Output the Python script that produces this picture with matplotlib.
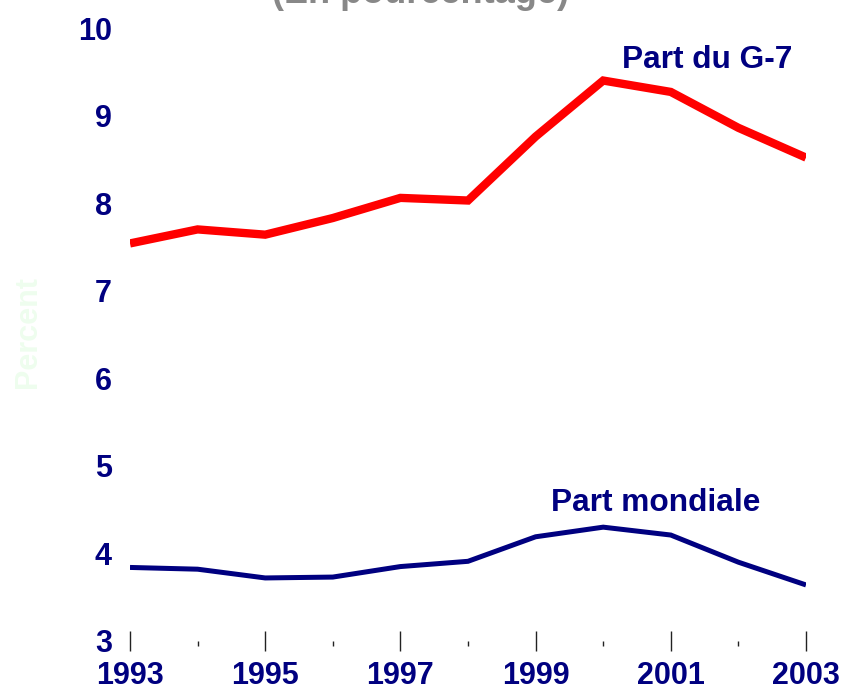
import matplotlib

matplotlib.use("Agg")
import matplotlib.pyplot as plt
from matplotlib.ticker import MultipleLocator

years = [1993, 1994, 1995, 1996, 1997, 1998, 1999, 2000, 2001, 2002, 2003]
g7_share = [7.54, 7.70, 7.64, 7.83, 8.06, 8.03, 8.76, 9.40, 9.27, 8.86, 8.52]
world_share = [3.84, 3.82, 3.72, 3.73, 3.85, 3.91, 4.19, 4.30, 4.21, 3.90, 3.64]
year_ticks = [1993, 1995, 1997, 1999, 2001, 2003]
y_ticks = [3, 4, 5, 6, 7, 8, 9, 10]

NAVY = "#000080"
RED = "#FF0000"

plt.rcParams["font.family"] = ["Liberation Sans", "DejaVu Sans"]
plt.rcParams["font.weight"] = "bold"

fig = plt.figure(figsize=(8.44, 6.87), dpi=100)
ax = fig.add_axes([130 / 844, 1 - 641 / 687, 676 / 844, 613 / 687])

ax.plot(years, g7_share, color=RED, linewidth=6.0, solid_capstyle="butt", solid_joinstyle="miter")
ax.plot(years, world_share, color=NAVY, linewidth=3.6, solid_capstyle="butt", solid_joinstyle="miter")

ax.set_xlim(1993, 2003)
ax.set_ylim(3, 10)
for s in ax.spines.values():
    s.set_visible(False)

ax.set_xticks(year_ticks)
ax.set_xticklabels([str(y) for y in year_ticks])
ax.xaxis.set_minor_locator(MultipleLocator(1))
ax.tick_params(axis="x", which="major", direction="inout", length=14.4, width=1.0,
               color="#222222", pad=7.5, labelsize=22, labelcolor=NAVY)
ax.tick_params(axis="x", which="minor", direction="out", length=3.6, width=1.0, color="#222222")

ax.set_yticks(y_ticks)
ax.tick_params(axis="y", length=0, pad=13, labelsize=22, labelcolor=NAVY)

ax.text(2001.54, 9.63, "Part du G-7", color=NAVY, fontsize=22.8, fontweight="bold",
        ha="center", va="center")
ax.text(2000.77, 4.575, "Part mondiale", color=NAVY, fontsize=22.8, fontweight="bold",
        ha="center", va="center")

fig.text(28 / 844, 1 - 332 / 687, "Percent", rotation=90, color="#EEFDEE",
         fontsize=22, fontweight="bold", ha="center", va="center")
fig.text(420 / 844, 1 - 11 / 687, "(En pourcentage)", color="#888888",
         fontsize=26, fontweight="bold", ha="center", va="bottom")

fig.savefig("out.png", dpi=100)
